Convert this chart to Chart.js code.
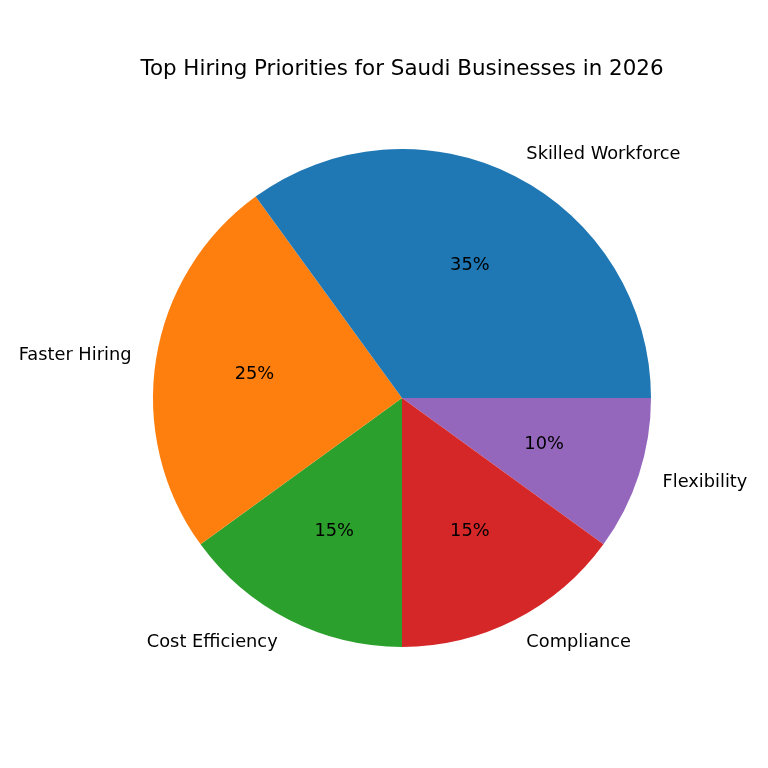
<!DOCTYPE html>
<html>
<head>
<meta charset="utf-8">
<script src="https://cdn.jsdelivr.net/npm/chart.js@4"></script>
<style>
html,body{margin:0;padding:0;background:#fff;}
#c{display:block;}
</style>
</head>
<body>
<canvas id="c" width="768" height="768"></canvas>
<script>
const categories = ["Skilled Workforce", "Faster Hiring", "Cost Efficiency", "Compliance", "Flexibility"];
const shares = [35, 25, 15, 15, 10];
const colors = ["#1f77b4", "#ff7f0e", "#2ca02c", "#d62728", "#9467bd"];
const titleText = "Top Hiring Priorities for Saudi Businesses in 2026";

// matplotlib draws counterclockwise from 3 o'clock; Chart.js goes clockwise,
// so feed the slices in reverse order starting at 3 o'clock.
const revLabels = categories.slice().reverse();
const revData = shares.slice().reverse();
const revColors = colors.slice().reverse();

const FONT = "DejaVu Sans, sans-serif";

const labelPlugin = {
  id: 'mplLabels',
  afterDatasetsDraw(chart) {
    const ctx = chart.ctx;
    const meta = chart.getDatasetMeta(0);
    const total = revData.reduce((a, b) => a + b, 0);
    ctx.save();
    meta.data.forEach((arc, i) => {
      const mid = (arc.startAngle + arc.endAngle) / 2;
      const r = arc.outerRadius;
      const c = Math.cos(mid), s = Math.sin(mid);
      ctx.font = "17.8px " + FONT;
      ctx.fillStyle = "#000";
      ctx.textBaseline = "middle";
      ctx.textAlign = c > 0 ? "left" : "right";
      ctx.fillText(revLabels[i], arc.x + 1.1 * r * c, arc.y + 1.1 * r * s);
      ctx.textAlign = "center";
      const pct = Math.round(revData[i] / total * 100) + "%";
      ctx.fillText(pct, arc.x + 0.6 * r * c, arc.y + 0.6 * r * s);
    });
    ctx.font = "21.4px " + FONT;
    ctx.textAlign = "center";
    ctx.textBaseline = "middle";
    ctx.fillText(titleText, 402, 69);
    ctx.restore();
  }
};

new Chart(document.getElementById('c'), {
  type: 'pie',
  data: {
    labels: revLabels,
    datasets: [{
      data: revData,
      backgroundColor: revColors,
      borderWidth: 0
    }]
  },
  options: {
    responsive: false,
    animation: false,
    devicePixelRatio: 1,
    rotation: 90,
    layout: { padding: { left: 153, right: 117, top: 149, bottom: 121 } },
    plugins: {
      legend: { display: false },
      tooltip: { enabled: false },
      title: { display: false }
    }
  },
  plugins: [labelPlugin]
});
</script>
</body>
</html>
